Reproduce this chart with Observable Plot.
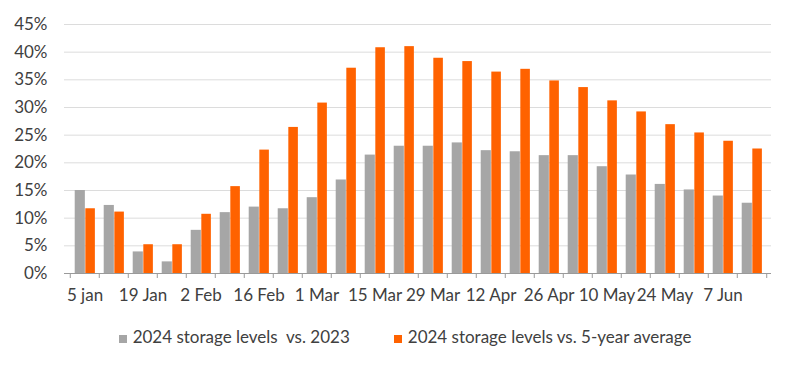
<!DOCTYPE html>
<html>
<head>
<meta charset="utf-8">
<script src="https://cdn.jsdelivr.net/npm/d3@7"></script>
<script src="https://cdn.jsdelivr.net/npm/@observablehq/plot@0.6"></script>
<style>
  body { margin: 0; background: #fff; font-family: Lato, "Open Sans", sans-serif; }
  #chart { width: 800px; height: 310px; }
  .legend { display: flex; justify-content: center; gap: 44px; margin-top: 17px; font-size: 17px; color: #404040; line-height: 20px; padding-left: 10px; }
  .legend span.item { display: flex; align-items: center; white-space: pre; }
  .legend i { display: inline-block; width: 8px; height: 8px; margin-right: 6px; margin-top: 3px; }
</style>
</head>
<body>
<div id="chart"></div>
<script>
const dates = ["5 jan","12 Jan","19 Jan","26 Jan","2 Feb","9 Feb","16 Feb","23 Feb","1 Mar","8 Mar","15 Mar","22 Mar","29 Mar","5 Apr","12 Apr","19 Apr","26 Apr","3 May","10 May","17 May","24 May","31 May","7 Jun","14 Jun"];
const vs2023 = [15.0,12.3,3.9,2.1,7.8,11.0,12.0,11.7,13.7,16.9,21.4,23.0,23.0,23.6,22.2,22.0,21.3,21.3,19.3,17.8,16.1,15.1,14.0,12.7];
const vs5yr = [11.7,11.1,5.2,5.2,10.7,15.7,22.3,26.4,30.8,37.1,40.8,41.0,38.9,38.3,36.4,36.9,34.8,33.6,31.2,29.2,26.9,25.4,23.9,22.5];
const tickLabels = ["5 jan","19 Jan","2 Feb","16 Feb","1 Mar","15 Mar","29 Mar","12 Apr","26 Apr","10 May","24 May","7 Jun"];
const yTicks = [0,5,10,15,20,25,30,35,40,45];
const seriesNames = ["2024 storage levels  vs. 2023", "2024 storage levels vs. 5-year average"];
const colors = ["#a6a6a6", "#ff6200"];

const data = dates.map((d, i) => ({date: d, a: vs2023[i], b: vs5yr[i]}));

const W = 800, ML = 64, MR = 29;
const bw = (W - ML - MR) / dates.length;
const font = "Lato, 'Open Sans', sans-serif";

const chart = Plot.plot({
  width: W, height: 310,
  marginLeft: ML, marginRight: MR, marginTop: 24, marginBottom: 37,
  style: {fontFamily: font, fontSize: "17px", color: "#404040", background: "#fff"},
  x: {domain: dates, padding: 0, axis: null},
  y: {domain: [0, 45], axis: null},
  marks: [
    Plot.gridY(yTicks.slice(1), {stroke: "#dcdcdc", strokeOpacity: 1}),
    Plot.axisY(yTicks, {tickSize: 0, tickPadding: 17, tickFormat: d => d + "%", fontSize: 17, fill: "#404040", label: null}),
    Plot.barY(data, {x: "date", y: "a", fill: colors[0], insetLeft: bw * 0.16, insetRight: bw * 0.48}),
    Plot.barY(data, {x: "date", y: "b", fill: colors[1], insetLeft: bw * 0.52, insetRight: bw * 0.14}),
    Plot.ruleY([0], {stroke: "#9a9a9a"}),
    Plot.axisX(tickLabels, {tickSize: 0, tickPadding: 15, fontSize: 17, fill: "#404040", label: null}),
    Plot.axisX(dates, {tickSize: 5, text: null, dx: -bw / 2, stroke: "#9a9a9a", label: null}),
    Plot.axisX(dates.slice(-1), {tickSize: 5, text: null, dx: bw / 2, stroke: "#9a9a9a", label: null})
  ]
});
document.getElementById("chart").appendChild(chart);

const legend = document.createElement("div");
legend.className = "legend";
seriesNames.forEach((n, i) => {
  const s = document.createElement("span");
  s.className = "item";
  const sw = document.createElement("i");
  sw.style.background = colors[i];
  s.appendChild(sw);
  s.appendChild(document.createTextNode(n));
  legend.appendChild(s);
});
document.body.appendChild(legend);
</script>
</body>
</html>
